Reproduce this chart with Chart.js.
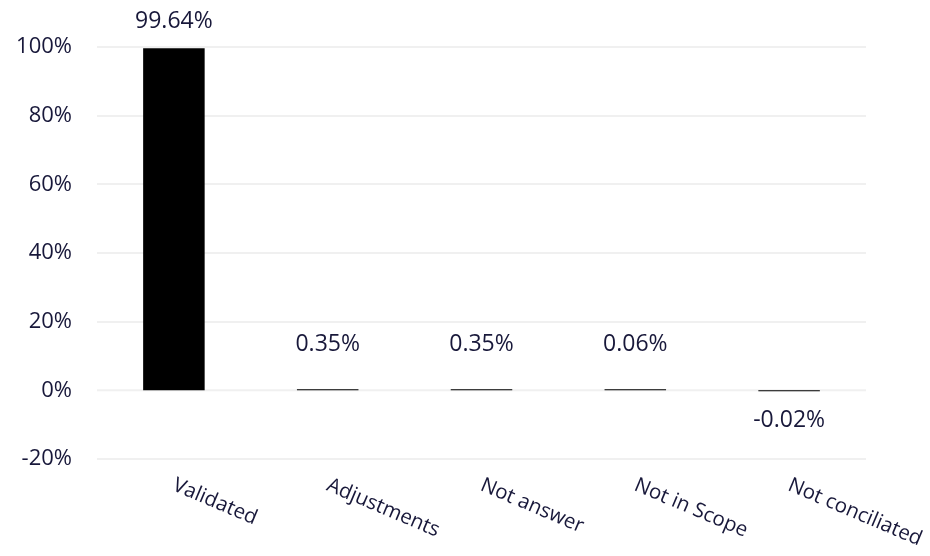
<!DOCTYPE html>
<html>
<head>
<meta charset="utf-8">
<script src="https://cdn.jsdelivr.net/npm/chart.js@4.4.0/dist/chart.umd.min.js"></script>
<style>
html,body{margin:0;padding:0;background:#fff;}
#wrap{width:930px;height:556px;}
</style>
</head>
<body>
<div id="wrap"><canvas id="c" width="930" height="556"></canvas></div>
<script>
const categories = ["Validated", "Adjustments", "Not answer", "Not in Scope", "Not conciliated"];
const values = [99.64, 0.35, 0.35, 0.06, -0.02];
const yTicks = [-20, 0, 20, 40, 60, 80, 100];

const TEXT = '#18183a';
const GRID = '#f0f0f0';
const FONT = '"Open Sans", "Noto Sans", sans-serif';

const zeroLinePlugin = {
  id: 'zeroLine',
  beforeDatasetsDraw(chart) {
    const ctx = chart.ctx;
    const y = chart.scales.y.getPixelForValue(0);
    const a = chart.chartArea;
    ctx.save();
    ctx.strokeStyle = GRID;
    ctx.lineWidth = 2;
    ctx.beginPath();
    ctx.moveTo(a.left, y);
    ctx.lineTo(a.right, y);
    ctx.stroke();
    ctx.restore();
  }
};

const labelPlugin = {
  id: 'labels',
  afterDatasetsDraw(chart) {
    const ctx = chart.ctx;
    const meta = chart.getDatasetMeta(0);
    const ys = chart.scales.y;
    const xs = chart.scales.x;
    const zeroY = ys.getPixelForValue(0);
    ctx.save();
    ctx.fillStyle = TEXT;
    ctx.font = '23px ' + FONT;
    ctx.textAlign = 'center';
    ctx.textBaseline = 'middle';
    meta.data.forEach((bar, i) => {
      const v = values[i];
      const txt = v.toFixed(2) + '%';
      let y;
      if (v >= 0) {
        y = Math.min(bar.y - 27, zeroY - 46);
      } else {
        y = Math.max(bar.y + 29, zeroY + 29);
      }
      ctx.fillText(txt, bar.x, y);
    });
    // rotated category labels
    ctx.font = '20.5px ' + FONT;
    ctx.textAlign = 'left';
    ctx.textBaseline = 'top';
    categories.forEach((c, i) => {
      const x = xs.getPixelForValue(i);
      ctx.save();
      ctx.translate(x + 4, chart.chartArea.bottom + 16);
      ctx.rotate(23 * Math.PI / 180);
      ctx.fillText(c, 0, 0);
      ctx.restore();
    });
    ctx.restore();
  }
};

new Chart(document.getElementById('c'), {
  type: 'bar',
  data: {
    labels: categories,
    datasets: [{
      data: values,
      backgroundColor: '#000000',
      borderWidth: 0,
      minBarLength: 1,
      barPercentage: 0.4,
      categoryPercentage: 1.0
    }]
  },
  options: {
    responsive: false,
    animation: false,
    devicePixelRatio: 1,
    layout: { padding: { top: 47, right: 64, bottom: 97, left: 0 } },
    plugins: { legend: { display: false }, tooltip: { enabled: false } },
    scales: {
      x: {
        grid: { display: false, drawTicks: false },
        border: { display: false },
        ticks: { display: false }
      },
      y: {
        min: -20,
        max: 100,
        afterFit(scale) { scale.width = 97; },
        afterBuildTicks(scale) { scale.ticks = yTicks.map(v => ({ value: v })); },
        grid: {
          color: GRID,
          lineWidth: c => (c.tick && c.tick.value === 0) ? 0 : 2,
          drawTicks: false
        },
        border: { display: false },
        ticks: {
          padding: 25,
          color: TEXT,
          font: { size: 22, family: FONT },
          callback: v => v + '%'
        }
      }
    }
  },
  plugins: [zeroLinePlugin, labelPlugin]
});
</script>
</body>
</html>
